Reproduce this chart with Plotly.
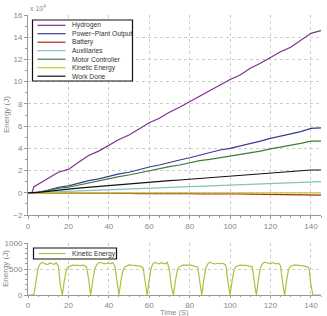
import plotly.graph_objects as go

# ---- data ----
t_top = [0, 2, 3, 5, 10, 15, 20, 25, 30, 35, 40, 45, 50, 55, 60, 65, 70, 75, 80, 85,
         90, 95, 100, 105, 110, 115, 120, 125, 130, 135, 140, 145]
hydrogen = [0, 0.05, 0.55, 0.75, 1.3, 1.85, 2.1, 2.75, 3.35, 3.75, 4.3, 4.8, 5.2, 5.75, 6.3, 6.7,
            7.25, 7.7, 8.2, 8.7, 9.15, 9.7, 10.2, 10.6, 11.2, 11.65, 12.2, 12.7, 13.1, 13.7, 14.35, 14.6]
power_plant = [0, 0, 0, 0.05, 0.25, 0.5, 0.62, 0.87, 1.1, 1.25, 1.5, 1.7, 1.85, 2.1, 2.32, 2.5,
               2.75, 2.95, 3.15, 3.4, 3.6, 3.85, 4.0, 4.2, 4.45, 4.65, 4.9, 5.1, 5.3, 5.5, 5.8, 5.85]
battery = [0, 0, 0, 0, -0.01, 0.0, -0.03, -0.02, -0.04, -0.03, -0.05, -0.06, -0.05, -0.07, -0.06, -0.08,
           -0.07, -0.09, -0.08, -0.1, -0.09, -0.11, -0.12, -0.1, -0.12, -0.14, -0.13, -0.15, -0.14, -0.16, -0.18, -0.22]
auxiliaries = [0, 0.014, 0.02, 0.035, 0.07, 0.1, 0.14, 0.17, 0.21, 0.24, 0.28, 0.31, 0.35, 0.38, 0.41, 0.45,
               0.48, 0.52, 0.55, 0.59, 0.62, 0.66, 0.69, 0.72, 0.76, 0.79, 0.83, 0.86, 0.9, 0.93, 0.97, 1.0]
motor_controller = [0, 0, 0, 0.04, 0.2, 0.4, 0.5, 0.7, 0.9, 1.05, 1.3, 1.45, 1.6, 1.8, 2.0, 2.15,
                    2.35, 2.5, 2.7, 2.9, 3.0, 3.15, 3.25, 3.4, 3.6, 3.75, 3.95, 4.1, 4.3, 4.45, 4.65, 4.65]
work_done = [0, 0, 0, 0.03, 0.12, 0.25, 0.32, 0.42, 0.5, 0.58, 0.68, 0.75, 0.8, 0.88, 0.95, 1.02,
             1.1, 1.15, 1.22, 1.3, 1.35, 1.42, 1.5, 1.55, 1.65, 1.72, 1.8, 1.85, 1.95, 2.0, 2.05, 2.05]

t_ke = list(range(0, 146))
kinetic = [
    0, 0, 0, 20, 300, 520, 600, 625, 610, 590, 595, 615, 600, 590, 620, 560, 200,   # 0-16
    0, 280, 480, 545, 565, 575, 570, 575, 570, 565, 575, 560, 540, 300,             # 17-30
    0, 260, 500, 580, 620, 625, 605, 600, 610, 615, 600, 620, 560, 220,             # 31-44
    0, 270, 480, 545, 570, 580, 575, 570, 575, 565, 560, 545, 520, 250,             # 45-58
    0, 300, 530, 610, 625, 610, 600, 620, 615, 600, 625, 480, 150,                  # 59-71
    0, 280, 490, 550, 570, 580, 575, 570, 580, 570, 560, 550, 540, 260,             # 72-85
    0, 290, 520, 600, 630, 615, 600, 605, 615, 600, 610, 600, 560, 230,             # 86-99
    0, 270, 490, 550, 565, 575, 570, 575, 570, 560, 555, 540, 250,                  # 100-112
    0, 290, 520, 600, 630, 620, 605, 600, 620, 615, 600, 610, 560, 230,             # 113-126
    0, 280, 500, 555, 575, 580, 575, 570, 575, 565, 555, 540, 520, 200,             # 127-140
    0, 0, 0, 0, 0]                                                                   # 141-145
kinetic = kinetic[:len(t_ke)]
kinetic_top = [v / 1e4 for v in kinetic]

x_ticks = [0, 20, 40, 60, 80, 100, 120, 140]
series_names = ["Hydrogen", "Power\u2212Plant Output", "Battery", "Auxiliaries",
                "Motor Controller", "Kinetic Energy", "Work Done"]

colors = {
    "Hydrogen": "#7e2f8e",
    "Power\u2212Plant Output": "#3a3a90",
    "Battery": "#a8281e",
    "Auxiliaries": "#7fc3c3",
    "Motor Controller": "#3d7d3a",
    "Kinetic Energy": "#c8c832",
    "Work Done": "#111111",
}
ke_bottom_color = "#a8c43c"

# ---- figure geometry (pixels) ----
W, H = 327, 316
ML, MR, MT, MB = 28, 6, 15, 21
PW, PH = W - ML - MR, H - MT - MB


def px(x):
    return (x - ML) / PW


def py(y):
    return (H - MB - y) / PH


fig = go.Figure()
series_data = [hydrogen, power_plant, battery, auxiliaries, motor_controller, kinetic_top, work_done]
for name, ys in zip(series_names, series_data):
    xs = t_ke if name == "Kinetic Energy" else t_top
    fig.add_trace(go.Scatter(x=xs, y=ys, mode="lines", name=name, showlegend=False,
                             line=dict(color=colors[name], width=1.2),
                             xaxis="x", yaxis="y"))

fig.add_trace(go.Scatter(x=t_ke, y=kinetic, mode="lines", name="Kinetic Energy", showlegend=False,
                         line=dict(color=ke_bottom_color, width=1.2),
                         xaxis="x2", yaxis="y2"))

font_family = "Liberation Sans, Arial, sans-serif"
axis_common = dict(
    showline=True, linecolor="#999999", linewidth=1,
    ticks="outside", tickcolor="#999999",
    tickfont=dict(size=8, color="#888888", family=font_family),
    showgrid=True, gridcolor="#cccccc", griddash="dot", gridwidth=1,
    zeroline=False, mirror=False,
)

fig.update_layout(
    width=W, height=H,
    margin=dict(l=ML, r=MR, t=MT, b=MB),
    paper_bgcolor="white", plot_bgcolor="white",
    font=dict(family=font_family, size=8, color="#555555"),
    showlegend=False,
    xaxis=dict(domain=[0, 1], range=[0, 145], tickvals=x_ticks, anchor="y", ticklen=3,
               minor=dict(ticks="outside", ticklen=2, dtick=5, tickcolor="#999999"),
               **axis_common),
    yaxis=dict(domain=[py(215), 1], range=[-2, 16], dtick=2, anchor="x", ticklen=3,
               minor=dict(ticks="outside", ticklen=2, dtick=1, tickcolor="#999999"),
               **axis_common),
    xaxis2=dict(domain=[0, 1], range=[0, 145], tickvals=x_ticks, anchor="y2", ticklen=2,
                minor=dict(ticks="outside", ticklen=1, dtick=5, tickcolor="#999999"),
                **axis_common),
    yaxis2=dict(domain=[0, py(243)], range=[0, 1000], tickvals=[0, 500, 1000], anchor="x2", ticklen=3,
                minor=dict(ticks="outside", ticklen=2, dtick=100, tickcolor="#999999"),
                **axis_common),
)

# ---- legends drawn manually (compact, MATLAB-like) ----
shapes = []
annotations = []
leg_font = dict(size=6.7, color="#333333", family=font_family)

# top legend
shapes.append(dict(type="rect", xref="paper", yref="paper",
                   x0=px(32.5), x1=px(132.5), y0=py(81), y1=py(20),
                   fillcolor="white", line=dict(color="#111111", width=1.2), layer="above"))
item_y = [25.3, 33.7, 42.2, 50.7, 59.2, 67.7, 76.2]
for name, yy in zip(series_names, item_y):
    shapes.append(dict(type="line", xref="paper", yref="paper",
                       x0=px(37.5), x1=px(65.5), y0=py(yy), y1=py(yy),
                       line=dict(color=colors[name], width=1.2), layer="above"))
    annotations.append(dict(text=name, xref="paper", yref="paper", x=px(69.5), y=py(yy),
                            xanchor="left", yanchor="middle", showarrow=False, font=leg_font))

# bottom legend
shapes.append(dict(type="rect", xref="paper", yref="paper",
                   x0=px(33.5), x1=px(116.5), y0=py(259), y1=py(248),
                   fillcolor="white", line=dict(color="#111111", width=1.2), layer="above"))
shapes.append(dict(type="line", xref="paper", yref="paper",
                   x0=px(39), x1=px(65.5), y0=py(253.5), y1=py(253.5),
                   line=dict(color=ke_bottom_color, width=1.2), layer="above"))
annotations.append(dict(text="Kinetic Energy", xref="paper", yref="paper", x=px(69.5), y=py(253.5),
                        xanchor="left", yanchor="middle", showarrow=False, font=leg_font))

# axis labels
annotations.append(dict(text="x 10<sup>4</sup>", xref="paper", yref="paper", x=0.0, y=1.0,
                        xanchor="left", yanchor="bottom", showarrow=False, yshift=1,
                        font=dict(size=7, color="#888888", family=font_family)))
annotations.append(dict(text="Energy (J)", xref="paper", yref="paper", x=0, y=py(115),
                        xanchor="center", yanchor="middle", textangle=-90, showarrow=False,
                        xshift=-21, font=dict(size=8, color="#888888", family=font_family)))
annotations.append(dict(text="Energy (J)", xref="paper", yref="paper", x=0, y=py(269),
                        xanchor="center", yanchor="middle", textangle=-90, showarrow=False,
                        xshift=-23, font=dict(size=8, color="#888888", family=font_family)))
annotations.append(dict(text="Time (S)", xref="paper", yref="paper", x=0.5, y=py(312.6),
                        xanchor="center", yanchor="middle", showarrow=False,
                        font=dict(size=7.5, color="#888888", family=font_family)))

fig.update_layout(shapes=shapes, annotations=annotations)

fig.write_html("out.html")
